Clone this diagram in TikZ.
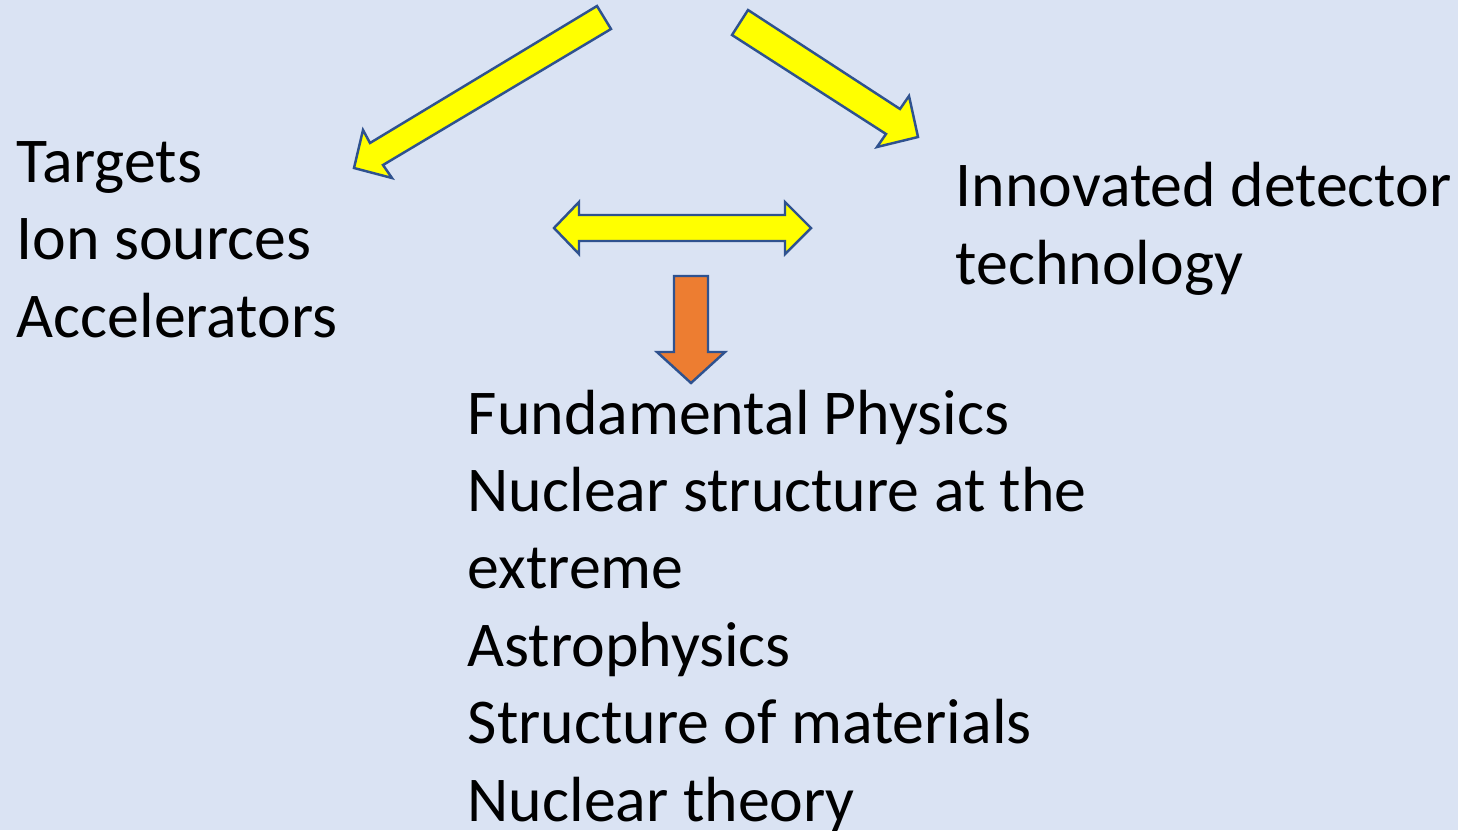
\documentclass[tikz,border=0pt]{standalone}
\usepackage{fontspec}
\setmainfont{Carlito}
\usetikzlibrary{positioning}

\definecolor{slidebg}{HTML}{DAE3F3}
\definecolor{arrowline}{HTML}{2F528F}
\definecolor{arrowyellow}{HTML}{FFFF00}
\definecolor{arroworange}{HTML}{ED7D31}

\begin{document}
\begin{tikzpicture}[
    x=0.01cm, y=-0.01cm,
    listtext/.style={inner sep=0pt, anchor=base west, align=left, font=\fontsize{18.15pt}{22pt}\selectfont},
    yellowarrow/.style={draw=arrowline, fill=arrowyellow, line width=0.7pt, line join=miter},
    orangearrow/.style={draw=arrowline, fill=arroworange, line width=0.7pt, line join=miter}
]

    % Fond de la diapositive
    \fill[slidebg] (0,0) rectangle (1458,830);
    \useasboundingbox (0,0) rectangle (1458,830);

    % Blocs de texte (ancres sur la ligne de base de la derniere ligne)
    \node[listtext] (sources) at (16,337) {Targets\\Ion sources\\Accelerators};
    \node[listtext] (detector) at (955,284) {Innovated detector\\technology};
    \node[listtext] (physics) at (467,821) {Fundamental Physics\\Nuclear structure at the\\extreme\\Astrophysics\\Structure of materials\\Nuclear theory};

    % Fleches jaunes
    \draw[yellowarrow] (597,6) -- (370,143) -- (363,130) -- (354,168) -- (392,178) -- (383,165) -- (611,29) -- cycle;
    \draw[yellowarrow] (748,10) -- (900,109) -- (909,96) -- (918,137) -- (877,147) -- (886,134) -- (732,35) -- cycle;
    \draw[yellowarrow] (554,228) -- (579,202) -- (579,215) -- (785,215) -- (785,202) -- (811,228)
        -- (785,254) -- (785,241) -- (579,241) -- (579,254) -- cycle;

    % Fleche orange vers le bas
    \draw[orangearrow] (674,276) -- (708,276) -- (708,352) -- (725,352) -- (691,383) -- (657,352) -- (674,352) -- cycle;

\end{tikzpicture}
\end{document}
